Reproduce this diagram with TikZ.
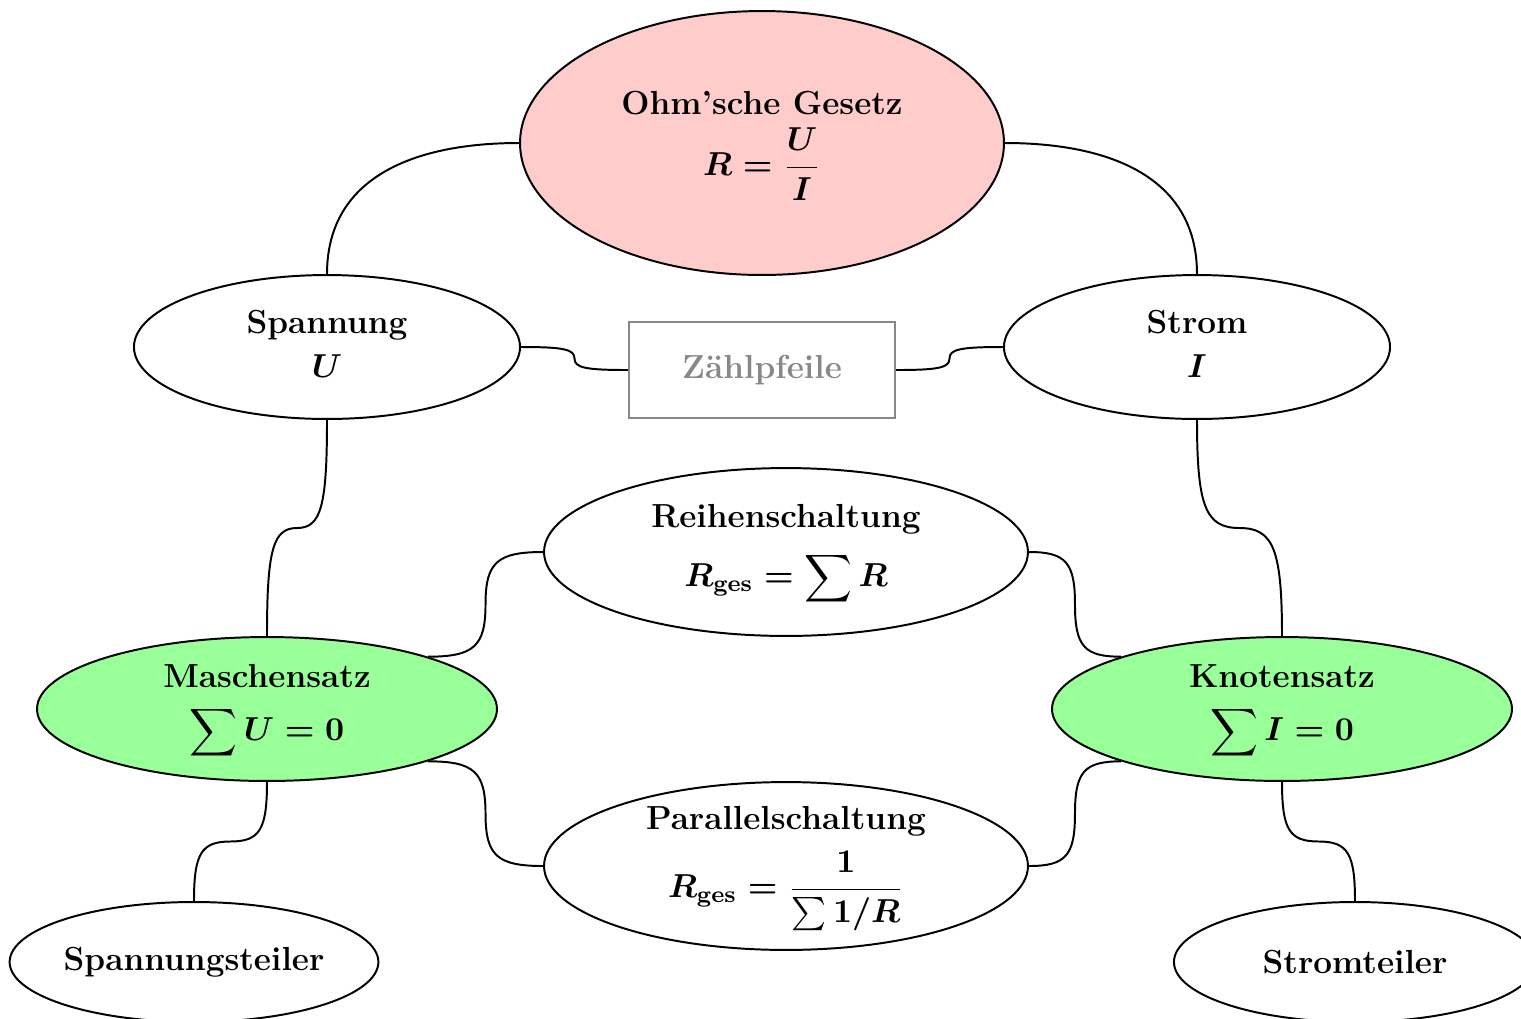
\documentclass[tikz,border=0pt]{standalone}
\usepackage{amsmath}
\usetikzlibrary{shapes.geometric,calc}

\definecolor{ohmfill}{HTML}{FFCCCC}
\definecolor{lawfill}{HTML}{99FF99}
\definecolor{arrowgray}{HTML}{888888}

% stacked label lines
\newcommand{\lines}[1]{\begin{tabular}{@{}c@{}}#1\end{tabular}}

% S-shaped connector: leaves vertically, turns horizontal at the midpoint, ends vertically
\newcommand{\linkV}[2]{%
  \coordinate (lm) at ($(#1)!.5!(#2)$);
  \draw[link] (#1) .. controls ($(#1)!.8!(#1 |- lm)$) and ($(lm)!.8!(#1 |- lm)$) .. (lm)
    .. controls ($(lm)!.8!(#2 |- lm)$) and ($(#2)!.8!(#2 |- lm)$) .. (#2);}
% S-shaped connector: leaves horizontally, turns vertical at the midpoint, ends horizontally
\newcommand{\linkH}[2]{%
  \coordinate (lm) at ($(#1)!.5!(#2)$);
  \draw[link] (#1) .. controls ($(#1)!.8!(#1 -| lm)$) and ($(lm)!.8!(#1 -| lm)$) .. (lm)
    .. controls ($(lm)!.8!(#2 -| lm)$) and ($(#2)!.8!(#2 -| lm)$) .. (#2);}

\begin{document}
\begin{tikzpicture}[x=0.33pt,y=-0.33pt,
  every node/.style={font=\fontsize{11}{13.6}\selectfont\bfseries\boldmath},
  bubble/.style={ellipse, draw, line width=0.65pt, inner xsep=0pt, inner ysep=-10pt},
  bigbubble/.style={bubble, minimum width=159.7pt, minimum height=55.4pt},
  midbubble/.style={bubble, minimum width=127.4pt, minimum height=47.5pt},
  lawbubble/.style={bubble, fill=lawfill, minimum width=151.8pt, minimum height=47.5pt},
  leafbubble/.style={bubble, minimum width=119.5pt, minimum height=39.6pt},
  notebox/.style={rectangle, draw=arrowgray, text=arrowgray, line width=0.65pt,
                  minimum width=87.8pt, minimum height=31.7pt, inner sep=0pt},
  link/.style={line width=0.65pt},
]
\useasboundingbox (0,0) rectangle (1521,1018);
\clip (0,0) rectangle (1521,1018);

% central law
\node[bubble, fill=ohmfill, minimum width=159.7pt, minimum height=87.1pt] (ohm) at (762,143)
  {\lines{Ohm'sche Gesetz\\[0.5pt]$R=\dfrac{U}{I}$}};

% quantities
\node[midbubble] (spannung) at (327,347) {\lines{Spannung\\[1pt]$U$}};
\node[midbubble] (strom) at (1197,347) {\lines{Strom\\[1pt]$I$}};
\node[notebox] (zaehl) at (762,370) {Zählpfeile};

% circuits
\node[bigbubble] (reihe) at (786,552)
  {\lines{Reihenschaltung\\[4pt]$\displaystyle R_{\text{ges}}=\sum R$}};
\node[bigbubble] (parallel) at (786,866)
  {\lines{Parallelschaltung\\[3pt]$\displaystyle R_{\text{ges}}=\frac{1}{\sum 1/R}$}};

% Kirchhoff
\node[lawbubble] (masche) at (267,709) {\lines{Maschensatz\\[2pt]$\displaystyle\sum U=0$}};
\node[lawbubble] (knoten) at (1282,709) {\lines{Knotensatz\\[2pt]$\displaystyle\sum I=0$}};

% dividers
\node[leafbubble] (uteiler) at (194,962) {Spannungsteiler};
\node[leafbubble] (iteiler) at (1355,962) {Stromteiler};

% connectors
\draw[link] (ohm.west) to[out=180,in=90,looseness=1.1] (spannung.north);
\draw[link] (ohm.east) to[out=0,in=90,looseness=1.1] (strom.north);

\linkH{spannung.east}{zaehl.west}
\linkH{zaehl.east}{strom.west}

\linkV{spannung.south}{masche.north}
\linkV{strom.south}{knoten.north}

\linkH{reihe.west}{masche.18}
\linkH{reihe.east}{knoten.162}
\linkH{masche.-18}{parallel.west}
\linkH{knoten.-162}{parallel.east}

\linkV{masche.south}{uteiler.north}
\linkV{knoten.south}{iteiler.north}
\end{tikzpicture}
\end{document}
